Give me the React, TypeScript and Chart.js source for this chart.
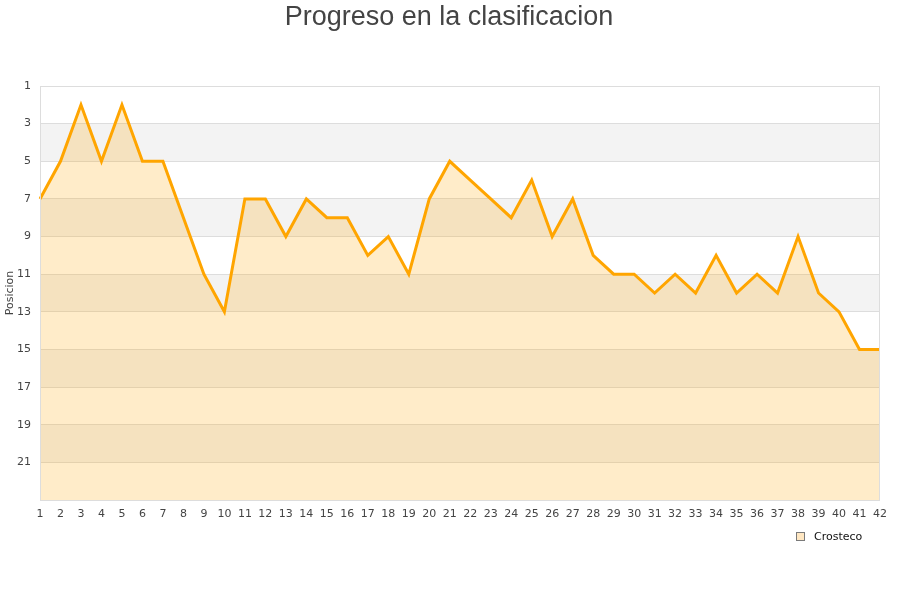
import React, { useEffect, useRef } from "react";
import { Chart, registerables } from "chart.js";

Chart.register(...registerables);

const jornadas: string[] = Array.from({ length: 42 }, (_, i) => String(i + 1));
const posiciones: number[] = [
  7, 5, 2, 5, 2, 5, 5, 8, 11, 13,
  7, 7, 9, 7, 8, 8, 10, 9, 11, 7,
  5, 6, 7, 8, 6, 9, 7, 10, 11, 11,
  12, 11, 12, 10, 12, 11, 12, 9, 12, 13,
  15, 15,
];
const yTicks: number[] = [1, 3, 5, 7, 9, 11, 13, 15, 17, 19, 21];
const bandStarts: number[] = [3, 7, 11, 15, 19];
const titleText = "Progreso en la clasificacion";
const seriesName = "Crosteco";
const yTitle = "Posicion";

const decorPlugin = {
  id: "decor",
  beforeDraw(chart: any) {
    const { ctx, chartArea, scales } = chart;
    const y = scales.y;
    ctx.save();
    ctx.fillStyle = "#ffffff";
    ctx.fillRect(0, 0, chart.width, chart.height);
    ctx.fillStyle = "#f3f3f3";
    bandStarts.forEach((b) => {
      const y1 = y.getPixelForValue(b);
      const y2 = y.getPixelForValue(b + 2);
      ctx.fillRect(chartArea.left, y1, chartArea.right - chartArea.left, y2 - y1);
    });
    ctx.restore();
  },
  afterDraw(chart: any) {
    const { ctx, chartArea } = chart;
    ctx.save();
    ctx.strokeStyle = "#dddddd";
    ctx.lineWidth = 1;
    ctx.strokeRect(
      Math.round(chartArea.left) + 0.5,
      Math.round(chartArea.top) + 0.5,
      Math.round(chartArea.right - chartArea.left) - 1,
      Math.round(chartArea.bottom - chartArea.top)
    );
    // title
    ctx.fillStyle = "#444444";
    ctx.font = '27px "Liberation Sans", Arial, sans-serif';
    ctx.textAlign = "center";
    ctx.textBaseline = "alphabetic";
    ctx.fillText(titleText, 449, 25);
    // legend
    ctx.fillStyle = "#ffe7c2";
    ctx.fillRect(796.5, 532.5, 8, 8);
    ctx.strokeStyle = "#7a7a7a";
    ctx.lineWidth = 1;
    ctx.strokeRect(796.5, 532.5, 8, 8);
    ctx.fillStyle = "#111111";
    ctx.font = '11px "DejaVu Sans", sans-serif';
    ctx.textAlign = "left";
    ctx.textBaseline = "middle";
    ctx.fillText(seriesName, 814, 537);
    ctx.restore();
  },
};

export default function App() {
  const ref = useRef<HTMLCanvasElement | null>(null);
  useEffect(() => {
    if (!ref.current) return;
    const chart = new Chart(ref.current, {
      type: "line",
      data: {
        labels: jornadas,
        datasets: [
          {
            label: seriesName,
            data: posiciones,
            borderColor: "#ffa500",
            borderWidth: 3,
            backgroundColor: "rgba(255,165,0,0.21)",
            fill: { value: 23 },
            pointRadius: 0,
            pointHoverRadius: 0,
            tension: 0,
          },
        ],
      },
      options: {
        responsive: false,
        animation: false,
        layout: { padding: { top: 86, right: 20, bottom: 0, left: 0 } },
        plugins: {
          legend: { display: false },
          title: { display: false },
          tooltip: { enabled: false },
        },
        scales: {
          x: {
            offset: false,
            grid: { display: false, drawTicks: false },
            border: { display: false },
            ticks: {
              autoSkip: false,
              maxRotation: 0,
              padding: 8,
              color: "#444444",
              font: { family: "DejaVu Sans", size: 11 },
            },
            afterFit: (s: any) => {
              s.height = 100;
            },
          },
          y: {
            reverse: true,
            min: 1,
            max: 23,
            afterBuildTicks: (s: any) => {
              s.ticks = yTicks.map((v) => ({ value: v }));
            },
            grid: { color: "#dddddd", drawTicks: false, lineWidth: 1 },
            border: { display: false },
            ticks: {
              padding: 9,
              color: "#444444",
              font: { family: "DejaVu Sans", size: 11 },
            },
            title: {
              display: true,
              text: yTitle,
              color: "#444444",
              font: { family: "DejaVu Sans", size: 11 },
              padding: { top: 4, bottom: 0 },
            },
            afterFit: (s: any) => {
              s.width = 40;
            },
          },
        },
      },
      plugins: [decorPlugin],
    });
    return () => chart.destroy();
  }, []);
  return (
    <div style={{ position: "absolute", left: 0, top: 0, width: 900, height: 600 }}>
      <canvas ref={ref} width={900} height={600} style={{ display: "block" }} />
    </div>
  );
}
